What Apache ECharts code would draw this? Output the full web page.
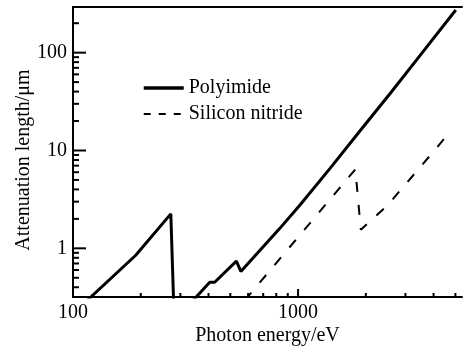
<!DOCTYPE html>
<html>
<head>
<meta charset="utf-8">
<script src="https://cdn.jsdelivr.net/npm/echarts@6/dist/echarts.min.js"></script>
<style>
  html, body { margin: 0; padding: 0; background: #fff; }
  #chart { width: 463px; height: 349px; }
</style>
</head>
<body>
<div id="chart"></div>
<script>
// photon energy (eV) vs attenuation length (um)
const polyimideEnergy = [115, 190, 272, 283, 340, 405, 426, 532, 557, 676, 830, 1020, 1390, 1890, 2575, 3500, 5020];
const polyimideLength = [0.29, 0.85, 2.25, 0.13, 0.29, 0.45, 0.45, 0.74, 0.58, 0.95, 1.6, 2.77, 6.6, 16, 38.7, 95, 273];
const nitrideEnergy = [580, 1003, 1797, 1900, 2489, 2922, 3991, 4806];
const nitrideLength = [0.295, 1.31, 6.42, 1.55, 2.73, 4.2, 9.72, 16.2];

// tick positions
const xMajorTicks = [100, 1000];
const xMinorTicks = [200, 300, 400, 500, 600, 700, 800, 900, 2000, 3000, 4000, 5000];
const yMajorTicks = [1, 10, 100];
const yMinorTicks = [0.4, 0.5, 0.6, 0.7, 0.8, 0.9, 2, 3, 4, 5, 6, 7, 8, 9,
                     20, 30, 40, 50, 60, 70, 80, 90, 200];

const X_MIN = 100, X_MAX = 5350;
const Y_MIN = 0.318, Y_MAX = 293;
const FONT = "'Liberation Serif', 'Times New Roman', serif";

function pairs(xs, ys) {
    return xs.map(function (x, i) { return [x, ys[i]]; });
}

// only label the decades
function decadeLabel(v) {
    const l = Math.log10(v);
    return Math.abs(l - Math.round(l)) < 1e-6 ? String(Math.round(v)) : '';
}

// inward tick marks drawn through the axis scales
function tickSeries(values, vertical, len) {
    return {
        type: 'custom',
        silent: true,
        clip: false,
        z: 5,
        data: values.map(function (v) { return vertical ? [v, Y_MIN] : [X_MIN, v]; }),
        renderItem: function (params, api) {
            const p = api.coord([api.value(0), api.value(1)]);
            return {
                type: 'line',
                shape: vertical
                    ? { x1: p[0], y1: p[1], x2: p[0], y2: p[1] - len }
                    : { x1: p[0], y1: p[1], x2: p[0] + len, y2: p[1] },
                style: { stroke: '#000', lineWidth: 2 }
            };
        }
    };
}

const chart = echarts.init(document.getElementById('chart'));

const option = {
    animation: false,
    backgroundColor: '#fff',
    textStyle: { fontFamily: FONT, color: '#000' },
    grid: { left: 73, right: 1, top: 7, bottom: 52, outerBoundsMode: 'none', containLabel: false },
    legend: {
        orient: 'vertical',
        left: 142,
        top: 78,
        padding: 0,
        itemWidth: 40,
        itemHeight: 14,
        itemGap: 6,
        itemStyle: { opacity: 0 },
        textStyle: { fontFamily: 'Liberation Serif', fontSize: 20, color: '#000' },
        data: [
            { name: 'Polyimide', lineStyle: { width: 3.5 } },
            { name: 'Silicon nitride', lineStyle: { width: 2, type: [7, 8] } }
        ]
    },
    xAxis: [{
        type: 'log',
        min: X_MIN,
        max: X_MAX,
        name: 'Photon energy/eV',
        nameLocation: 'middle',
        nameGap: 29,
        nameMoveOverlap: false,
        nameTextStyle: { fontFamily: FONT, fontSize: 20, color: '#000' },
        axisLine: { lineStyle: { color: '#000', width: 2 } },
        axisTick: { show: false },
        splitLine: { show: false },
        axisLabel: {
            formatter: decadeLabel,
            fontFamily: FONT, fontSize: 20, color: '#000', margin: 6
        }
    }, {
        type: 'log',
        position: 'top',
        min: X_MIN,
        max: X_MAX,
        axisLine: { lineStyle: { color: '#000', width: 2 } },
        axisTick: { show: false },
        axisLabel: { show: false },
        splitLine: { show: false }
    }],
    yAxis: {
        type: 'log',
        min: Y_MIN,
        max: Y_MAX,
        name: 'Attenuation length/\u03bcm',
        nameLocation: 'middle',
        nameGap: 39,
        nameMoveOverlap: false,
        nameTextStyle: { fontFamily: FONT, fontSize: 20, color: '#000', padding: [0, 16, 0, 0] },
        axisLine: { lineStyle: { color: '#000', width: 2 } },
        axisTick: { show: false },
        splitLine: { show: false },
        axisLabel: {
            formatter: decadeLabel,
            fontFamily: FONT, fontSize: 20, color: '#000', margin: 6
        }
    },
    series: [
        {
            name: 'Polyimide',
            type: 'line',
            symbol: 'none',
            data: pairs(polyimideEnergy, polyimideLength),
            itemStyle: { color: '#000' },
            lineStyle: { color: '#000', width: 3 }
        },
        {
            name: 'Silicon nitride',
            type: 'line',
            symbol: 'none',
            data: pairs(nitrideEnergy, nitrideLength),
            itemStyle: { color: '#000' },
            lineStyle: { color: '#000', width: 2, type: [10, 13] }
        },
        tickSeries(xMajorTicks, true, 8),
        tickSeries(xMinorTicks, true, 4),
        tickSeries(yMajorTicks, false, 13),
        tickSeries(yMinorTicks, false, 6)
    ]
};

chart.setOption(option);

window.addEventListener('resize', function () {
    chart.resize();
});
</script>
</body>
</html>
